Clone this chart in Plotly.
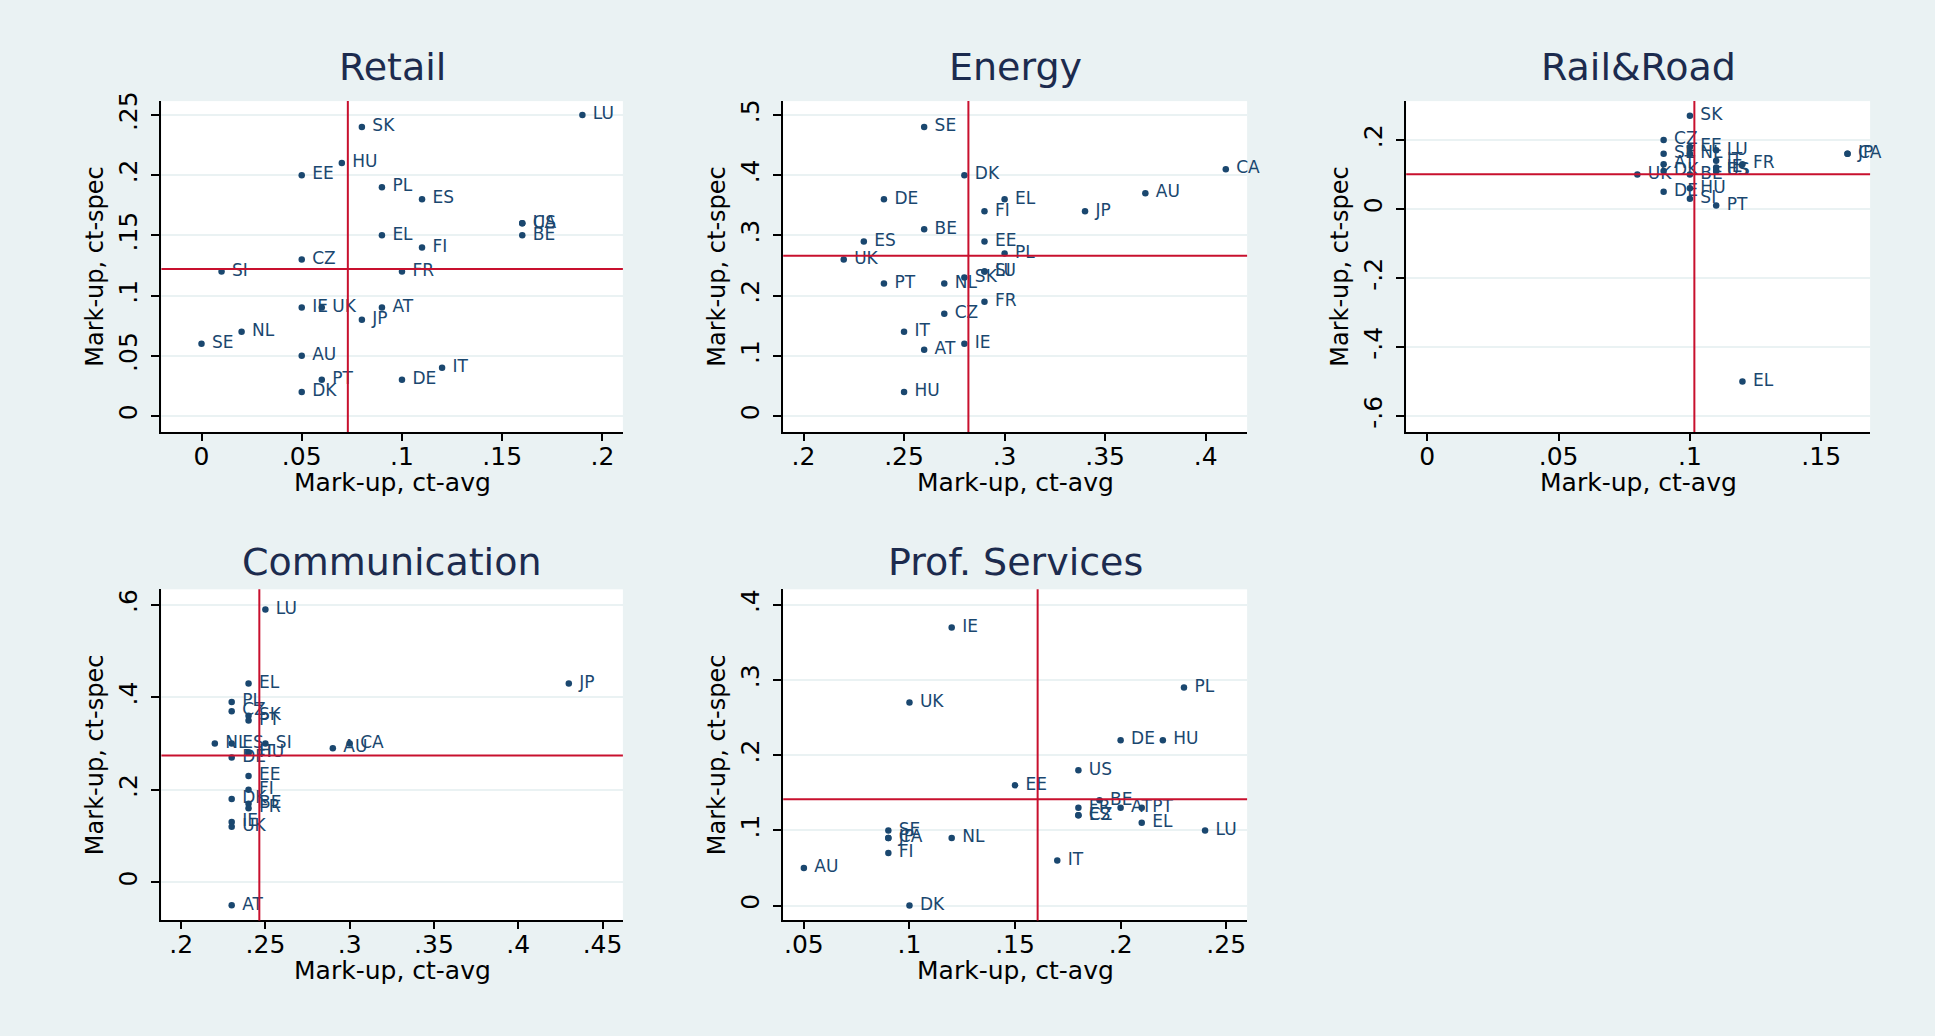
import plotly.graph_objects as go

# ---------------- data ----------------
retail_codes = ["LU", "SK", "HU", "EE", "PL", "ES", "US", "CA", "BE", "EL", "FI", "CZ", "SI",
                "FR", "IE", "UK", "AT", "JP", "NL", "SE", "AU", "IT", "PT", "DE", "DK"]
retail_x = [0.19, 0.08, 0.07, 0.05, 0.09, 0.11, 0.16, 0.16, 0.16, 0.09, 0.11, 0.05, 0.01,
            0.10, 0.05, 0.06, 0.09, 0.08, 0.02, 0.00, 0.05, 0.12, 0.06, 0.10, 0.05]
retail_y = [0.25, 0.24, 0.21, 0.20, 0.19, 0.18, 0.16, 0.16, 0.15, 0.15, 0.14, 0.13, 0.12,
            0.12, 0.09, 0.09, 0.09, 0.08, 0.07, 0.06, 0.05, 0.04, 0.03, 0.03, 0.02]
retail_ref = (0.073, 0.122)

energy_codes = ["SE", "CA", "DK", "AU", "DE", "EL", "FI", "JP", "BE", "ES", "EE", "PL",
                "UK", "SI", "LU", "SK", "PT", "NL", "FR", "CZ", "IT", "IE", "AT", "HU"]
energy_x = [0.26, 0.41, 0.28, 0.37, 0.24, 0.30, 0.29, 0.34, 0.26, 0.23, 0.29, 0.30,
            0.22, 0.29, 0.29, 0.28, 0.24, 0.27, 0.29, 0.27, 0.25, 0.28, 0.26, 0.25]
energy_y = [0.48, 0.41, 0.40, 0.37, 0.36, 0.36, 0.34, 0.34, 0.31, 0.29, 0.29, 0.27,
            0.26, 0.24, 0.24, 0.23, 0.22, 0.22, 0.19, 0.17, 0.14, 0.12, 0.11, 0.04]
energy_ref = (0.282, 0.266)

rail_codes = ["SK", "CZ", "EE", "LU", "SE", "NL", "IT", "AT", "FR", "IE", "ES", "US",
              "UK", "DK", "BE", "DE", "HU", "SI", "PT", "CA", "JP", "EL"]
rail_x = [0.10, 0.09, 0.10, 0.11, 0.09, 0.10, 0.11, 0.09, 0.12, 0.11, 0.11, 0.11,
          0.08, 0.09, 0.10, 0.09, 0.10, 0.10, 0.11, 0.16, 0.16, 0.12]
rail_y = [0.27, 0.20, 0.18, 0.17, 0.16, 0.16, 0.14, 0.13, 0.13, 0.12, 0.11, 0.11,
          0.10, 0.11, 0.10, 0.05, 0.06, 0.03, 0.01, 0.16, 0.16, -0.50]
rail_ref = (0.1017, 0.1005)

comm_codes = ["LU", "EL", "JP", "PL", "CZ", "SK", "PT", "NL", "ES", "SI", "CA", "AU",
              "HU", "IT", "DE", "EE", "FI", "DK", "BE", "FR", "IE", "UK", "AT"]
comm_x = [0.25, 0.24, 0.43, 0.23, 0.23, 0.24, 0.24, 0.22, 0.23, 0.25, 0.30, 0.29,
          0.24, 0.24, 0.23, 0.24, 0.24, 0.23, 0.24, 0.24, 0.23, 0.23, 0.23]
comm_y = [0.59, 0.43, 0.43, 0.39, 0.37, 0.36, 0.35, 0.30, 0.30, 0.30, 0.30, 0.29,
          0.28, 0.28, 0.27, 0.23, 0.20, 0.18, 0.17, 0.16, 0.13, 0.12, -0.05]
comm_ref = (0.2464, 0.2743)

prof_codes = ["IE", "PL", "UK", "DE", "HU", "US", "EE", "BE", "FR", "AT", "PT", "ES",
              "CZ", "EL", "LU", "SE", "CA", "JP", "NL", "FI", "IT", "AU", "DK"]
prof_x = [0.12, 0.23, 0.10, 0.20, 0.22, 0.18, 0.15, 0.19, 0.18, 0.20, 0.21, 0.18,
          0.18, 0.21, 0.24, 0.09, 0.09, 0.09, 0.12, 0.09, 0.17, 0.05, 0.10]
prof_y = [0.37, 0.29, 0.27, 0.22, 0.22, 0.18, 0.16, 0.14, 0.13, 0.13, 0.13, 0.12,
          0.12, 0.11, 0.10, 0.10, 0.09, 0.09, 0.09, 0.07, 0.06, 0.05, 0.00]
prof_ref = (0.1607, 0.1414)

panel_titles = ["Retail", "Energy", "Rail&Road", "Communication", "Prof. Services"]
x_title = "Mark-up, ct-avg"
y_title = "Mark-up, ct-spec"

retail_xticks = [0, 0.05, 0.10, 0.15, 0.20]
retail_xlabels = ["0", ".05", ".1", ".15", ".2"]
retail_yticks = [0, 0.05, 0.10, 0.15, 0.20, 0.25]
retail_ylabels = ["0", ".05", ".1", ".15", ".2", ".25"]
energy_xticks = [0.20, 0.25, 0.30, 0.35, 0.40]
energy_xlabels = [".2", ".25", ".3", ".35", ".4"]
energy_yticks = [0, 0.1, 0.2, 0.3, 0.4, 0.5]
energy_ylabels = ["0", ".1", ".2", ".3", ".4", ".5"]
rail_xticks = [0, 0.05, 0.10, 0.15]
rail_xlabels = ["0", ".05", ".1", ".15"]
rail_yticks = [-0.6, -0.4, -0.2, 0, 0.2]
rail_ylabels = ["-.6", "-.4", "-.2", "0", ".2"]
comm_xticks = [0.20, 0.25, 0.30, 0.35, 0.40, 0.45]
comm_xlabels = [".2", ".25", ".3", ".35", ".4", ".45"]
comm_yticks = [0, 0.2, 0.4, 0.6]
comm_ylabels = ["0", ".2", ".4", ".6"]
prof_xticks = [0.05, 0.10, 0.15, 0.20, 0.25]
prof_xlabels = [".05", ".1", ".15", ".2", ".25"]
prof_yticks = [0, 0.1, 0.2, 0.3, 0.4]
prof_ylabels = ["0", ".1", ".2", ".3", ".4"]

# ---------------- layout / style ----------------
W, H = 1935, 1036
BG = "#EAF2F3"
NAVY = "#1A476F"
RED = "#C8102E"
FONT = "DejaVu Sans"

panels = [
    dict(codes=retail_codes, x=retail_x, y=retail_y, ref=retail_ref,
         xt=retail_xticks, xl=retail_xlabels, yt=retail_yticks, yl=retail_ylabels,
         xr=[-0.0200, 0.2102], yr=[-0.0132, 0.2615], px=(161.4, 622.9), py=(92, 426), ty=58),
    dict(codes=energy_codes, x=energy_x, y=energy_y, ref=energy_ref,
         xt=energy_xticks, xl=energy_xlabels, yt=energy_yticks, yl=energy_ylabels,
         xr=[0.1899, 0.4206], yr=[-0.0263, 0.523], px=(783.2, 1247.1), py=(92, 426), ty=58),
    dict(codes=rail_codes, x=rail_x, y=rail_y, ref=rail_ref,
         xt=rail_xticks, xl=rail_xlabels, yt=rail_yticks, yl=rail_ylabels,
         xr=[-0.0080, 0.1686], yr=[-0.6459, 0.3127], px=(1406.2, 1870.1), py=(92, 426), ty=58),
    dict(codes=comm_codes, x=comm_x, y=comm_y, ref=comm_ref,
         xt=comm_xticks, xl=comm_xlabels, yt=comm_yticks, yl=comm_ylabels,
         xr=[0.1883, 0.4621], yr=[-0.0827, 0.6336], px=(161.4, 622.9), py=(585, 919.3), ty=557),
    dict(codes=prof_codes, x=prof_x, y=prof_y, ref=prof_ref,
         xt=prof_xticks, xl=prof_xlabels, yt=prof_yticks, yl=prof_ylabels,
         xr=[0.0402, 0.2599], yr=[-0.0198, 0.4207], px=(783.2, 1247.1), py=(585, 919.3), ty=557),
]

fig = go.Figure()
shapes = []
annotations = []

for i, p in enumerate(panels):
    n = "" if i == 0 else str(i + 1)
    xa, ya = "x" + n, "y" + n
    fig.add_trace(go.Scatter(
        x=p["x"], y=p["y"], text=p["codes"], mode="markers+text",
        texttemplate=" %{text}", textposition="middle right",
        textfont=dict(family=FONT, size=17, color=NAVY),
        marker=dict(size=6.5, color=NAVY), cliponaxis=False,
        xaxis=xa, yaxis=ya, showlegend=False, hoverinfo="skip"))

    xd = [p["px"][0] / W, p["px"][1] / W]
    yd = [1 - p["py"][1] / H, 1 - p["py"][0] / H]
    fig.layout["xaxis" + n] = dict(
        domain=xd, range=p["xr"], anchor=ya, tickmode="array",
        tickvals=p["xt"], ticktext=p["xl"], showgrid=False, zeroline=False,
        showline=True, linecolor="black", linewidth=2, ticks="outside",
        ticklen=7, tickwidth=1.5, tickcolor="black",
        tickfont=dict(family=FONT, size=25, color="black"),
        ticklabelstandoff=-6)
    fig.layout["yaxis" + n] = dict(
        domain=yd, range=p["yr"], anchor=xa, tickmode="array",
        tickvals=p["yt"], ticktext=p["yl"], showgrid=True, gridcolor=BG,
        gridwidth=2, zeroline=False, showline=True, linecolor="black",
        linewidth=2, ticks="outside", ticklen=8, tickwidth=1.5,
        tickcolor="black", tickangle=-90,
        tickfont=dict(family=FONT, size=25, color="black"),
        ticklabelstandoff=4,
        title=dict(text=y_title, font=dict(family=FONT, size=24, color="black"),
                   standoff=4))

    rx, ry = p["ref"]
    shapes.append(dict(type="line", xref=xa, yref=ya + " domain", x0=rx, x1=rx,
                       y0=0, y1=1, line=dict(color=RED, width=2)))
    shapes.append(dict(type="line", xref=xa + " domain", yref=ya, x0=0, x1=1,
                       y0=ry, y1=ry, line=dict(color=RED, width=2)))

    annotations.append(dict(
        text=panel_titles[i], xref="paper", yref="paper",
        x=(xd[0] + xd[1]) / 2, y=1 - p["ty"] / H,
        xanchor="center", yanchor="middle", showarrow=False,
        font=dict(family=FONT, size=38, color="#1C2B4E")))
    annotations.append(dict(
        text=x_title, xref="paper", yref="paper",
        x=(xd[0] + xd[1]) / 2, y=1 - (p["py"][1] + 51) / H,
        xanchor="center", yanchor="middle", showarrow=False,
        font=dict(family=FONT, size=25, color="black")))

fig.update_layout(
    width=W, height=H, margin=dict(l=0, r=0, t=0, b=0),
    paper_bgcolor=BG, plot_bgcolor="white",
    shapes=shapes, annotations=annotations,
    font=dict(family=FONT))

fig.write_html("out.html")
